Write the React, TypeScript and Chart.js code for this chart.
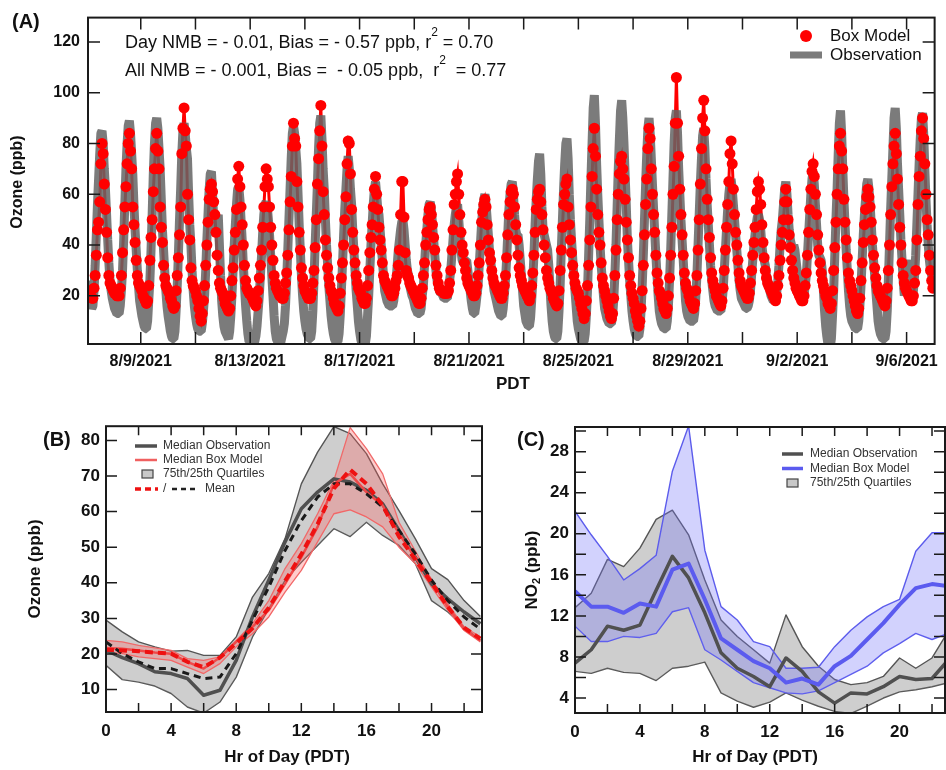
import React, { useEffect, useRef } from 'react';
import { Chart, registerables } from 'chart.js';

Chart.register(...registerables);

const FONT = "'Liberation Sans', Arial, Helvetica, sans-serif";
const INK = '#111111';

// ---------------- Panel A: hourly ozone, 8/7/2021 02:00 -> 9/6/2021 23:00 PDT ----------------
const firstHourA = 2; // hours after 8/7/2021 00:00 PDT
const boxModelOzone = [
  22, 21, 20, 19, 19, 23, 28, 36, 46, 49, 57, 72, 80, 76, 64, 54, 45, 35, 28, 25, 24, 23,
  22, 21, 21, 20, 20, 20, 23, 28, 37, 46, 55, 63, 72, 80, 84, 77, 70, 55, 48, 41, 34, 28, 25, 24,
  23, 22, 20, 19, 18, 17, 18, 24, 34, 43, 50, 61, 70, 78, 84, 77, 70, 55, 47, 41, 32, 27, 24, 23,
  22, 21, 19, 18, 16, 15, 16, 22, 28, 35, 44, 55, 76, 86, 94, 85, 79, 60, 50, 42, 31, 26, 24, 23,
  22, 20, 18, 15, 12, 10, 13, 18, 24, 32, 40, 49, 58, 62, 64, 61, 57, 52, 45, 36, 30, 25, 23, 22,
  21, 19, 17, 16, 15, 14, 15, 20, 26, 31, 38, 45, 54, 66, 71, 63, 55, 48, 40, 32, 26, 23, 22, 21,
  21, 20, 19, 18, 17, 16, 18, 22, 27, 32, 38, 47, 55, 63, 70, 66, 63, 55, 47, 40, 34, 28, 25, 23,
  22, 21, 20, 20, 19, 19, 21, 25, 29, 36, 46, 57, 67, 79, 88, 82, 79, 65, 55, 45, 38, 31, 27, 24,
  22, 21, 20, 19, 19, 19, 21, 25, 30, 39, 50, 64, 74, 85, 95, 79, 61, 52, 42, 36, 31, 27, 24, 22,
  21, 19, 17, 16, 15, 14, 16, 21, 27, 33, 40, 50, 59, 72, 81, 80, 68, 54, 45, 38, 33, 28, 25, 23,
  22, 21, 19, 18, 17, 17, 19, 24, 30, 37, 43, 48, 55, 62, 67, 60, 54, 47, 42, 38, 33, 28, 26, 25,
  24, 23, 22, 21, 20, 20, 21, 23, 26, 28, 32, 38, 52, 65, 65, 51, 37, 30, 28, 27, 25, 24, 23, 22,
  21, 20, 19, 18, 17, 17, 19, 23, 28, 33, 40, 45, 50, 54, 55, 52, 48, 43, 38, 32, 28, 25, 23, 22,
  22, 22, 21, 21, 21, 21, 22, 25, 30, 38, 46, 56, 60, 65, 68, 60, 52, 45, 40, 37, 33, 30, 27, 25,
  24, 23, 22, 21, 20, 20, 21, 24, 28, 33, 40, 49, 53, 56, 58, 55, 48, 42, 37, 34, 30, 27, 25, 24,
  23, 22, 21, 20, 19, 19, 21, 24, 28, 35, 44, 52, 57, 61, 62, 60, 55, 48, 42, 36, 31, 28, 26, 24,
  23, 22, 21, 20, 19, 18, 20, 24, 29, 36, 45, 54, 58, 61, 62, 57, 52, 46, 40, 35, 30, 27, 25, 23,
  22, 21, 19, 18, 17, 16, 17, 22, 30, 38, 47, 56, 60, 64, 66, 55, 48, 42, 37, 32, 28, 25, 23, 22,
  21, 19, 17, 15, 13, 11, 13, 18, 24, 32, 42, 55, 67, 78, 86, 75, 62, 52, 45, 40, 33, 27, 24, 22,
  20, 18, 16, 14, 12, 11, 13, 19, 28, 38, 50, 60, 68, 73, 75, 70, 66, 58, 49, 42, 35, 28, 24, 21,
  19, 17, 14, 12, 10, 8, 10, 15, 22, 32, 44, 56, 66, 78, 86, 82, 70, 60, 52, 45, 36, 29, 25, 22,
  21, 19, 17, 15, 14, 13, 15, 20, 27, 36, 47, 60, 71, 88, 106, 88, 75, 62, 52, 44, 36, 29, 25, 23,
  22, 20, 18, 17, 16, 15, 17, 22, 28, 38, 50, 64, 78, 90, 97, 85, 70, 58, 50, 43, 35, 29, 26, 24,
  22, 20, 19, 18, 17, 16, 18, 23, 30, 38, 47, 56, 65, 76, 81, 72, 62, 52, 45, 40, 34, 29, 26, 24,
  23, 22, 21, 20, 19, 19, 21, 25, 30, 36, 41, 47, 54, 61, 65, 62, 56, 48, 41, 35, 30, 27, 25, 24,
  23, 22, 21, 20, 19, 18, 20, 24, 28, 34, 40, 45, 50, 57, 62, 57, 50, 44, 39, 34, 30, 27, 25, 23,
  22, 21, 20, 19, 18, 18, 20, 24, 29, 36, 45, 54, 62, 69, 72, 67, 60, 52, 44, 38, 33, 29, 26, 24,
  22, 20, 19, 17, 16, 15, 17, 22, 30, 39, 49, 60, 70, 79, 84, 77, 70, 58, 49, 42, 35, 29, 26, 24,
  22, 20, 18, 16, 14, 13, 15, 19, 26, 33, 41, 48, 54, 59, 62, 59, 55, 49, 42, 36, 31, 27, 24, 22,
  21, 20, 19, 18, 17, 16, 18, 23, 30, 40, 52, 63, 72, 79, 84, 76, 66, 56, 47, 40, 33, 28, 25, 23,
  22, 21, 20, 19, 18, 18, 20, 25, 30, 42, 56, 67, 75, 85, 90, 82, 72, 60, 50, 44, 36, 30, 26, 23,
];
const observedOzone = [
  26, 22, 18, 15, 16, 22, 32, 44, 56, 66, 76, 84, 85, 80, 70, 62, 52, 42, 33, 26, 22, 19,
  17, 15, 14, 13, 13, 13, 16, 22, 30, 42, 56, 70, 80, 87, 89, 84, 76, 68, 56, 46, 38, 30, 24, 18,
  15, 12, 10, 8, 7, 7, 10, 18, 26, 38, 52, 68, 80, 88, 90, 86, 78, 70, 58, 46, 38, 30, 22, 16,
  12, 9, 6, 4, 3, 3, 6, 14, 24, 36, 50, 62, 76, 85, 88, 84, 78, 74, 60, 48, 40, 30, 22, 16,
  12, 9, 7, 6, 6, 6, 9, 14, 20, 30, 42, 52, 62, 68, 69, 60, 50, 46, 44, 48, 52, 40, 28, 18,
  12, 8, 6, 5, 4, 3, 6, 12, 20, 30, 40, 48, 56, 62, 63, 58, 50, 42, 32, 24, 16, 10, 5, 2,
  2, 0, -1, 0, 2, 4, 8, 14, 20, 28, 36, 45, 52, 56, 57, 55, 50, 44, 36, 28, 20, 12, 6, 3,
  2, 1, 0, 2, 4, 6, 9, 16, 26, 38, 50, 62, 74, 84, 87, 84, 78, 72, 60, 48, 38, 28, 20, 14,
  10, 7, 5, 4, 3, 3, 6, 14, 26, 40, 52, 64, 78, 88, 91, 82, 70, 62, 50, 40, 32, 24, 18, 12,
  8, 5, 3, 2, 2, 2, 5, 12, 22, 32, 44, 54, 62, 70, 75, 70, 62, 56, 46, 38, 30, 22, 16, 10,
  6, 3, 1, 0, 0, 1, 4, 12, 20, 30, 40, 48, 56, 62, 65, 60, 54, 52, 46, 40, 34, 28, 22, 20,
  18, 17, 16, 16, 16, 16, 18, 22, 26, 32, 38, 42, 46, 49, 50, 46, 40, 34, 30, 28, 24, 22, 20, 19,
  17, 15, 14, 13, 13, 13, 15, 20, 24, 32, 40, 46, 52, 56, 57, 54, 48, 42, 36, 30, 26, 24, 22, 21,
  21, 20, 19, 19, 19, 19, 22, 26, 30, 36, 42, 48, 52, 55, 56, 50, 44, 38, 34, 33, 33, 34, 34, 30,
  26, 22, 18, 15, 13, 13, 16, 20, 24, 32, 40, 48, 54, 58, 60, 56, 50, 44, 38, 34, 30, 26, 22, 20,
  18, 16, 14, 13, 12, 12, 15, 20, 26, 34, 44, 54, 60, 64, 65, 60, 52, 46, 44, 44, 40, 34, 28, 22,
  16, 13, 10, 9, 8, 8, 11, 18, 26, 36, 48, 58, 66, 73, 76, 68, 55, 46, 44, 42, 40, 38, 32, 24,
  16, 10, 6, 4, 3, 3, 6, 14, 24, 38, 50, 62, 72, 80, 82, 74, 60, 50, 42, 35, 28, 22, 16, 10,
  7, 5, 3, 2, 2, 2, 5, 12, 22, 36, 50, 66, 80, 94, 99, 88, 72, 60, 50, 40, 32, 26, 20, 15,
  13, 11, 10, 9, 9, 9, 12, 18, 28, 40, 55, 70, 82, 93, 97, 90, 80, 68, 56, 42, 34, 26, 20, 14,
  10, 7, 5, 4, 4, 4, 7, 14, 24, 36, 50, 64, 76, 86, 90, 84, 74, 64, 54, 45, 36, 28, 20, 14,
  11, 9, 8, 7, 7, 7, 10, 16, 26, 38, 52, 66, 80, 90, 93, 84, 70, 60, 50, 42, 34, 26, 18, 14,
  12, 11, 10, 10, 10, 10, 13, 19, 28, 40, 52, 64, 74, 83, 86, 78, 66, 56, 48, 40, 32, 26, 22, 18,
  16, 15, 14, 14, 14, 14, 17, 22, 30, 38, 46, 54, 60, 64, 66, 62, 56, 50, 44, 38, 32, 26, 22, 19,
  18, 17, 16, 15, 15, 16, 18, 22, 28, 34, 40, 44, 48, 51, 52, 50, 46, 40, 36, 34, 32, 28, 26, 24,
  22, 20, 19, 18, 18, 18, 21, 26, 32, 40, 46, 50, 56, 62, 65, 60, 52, 46, 42, 40, 38, 40, 38, 34,
  30, 26, 22, 19, 18, 18, 20, 24, 28, 36, 44, 52, 60, 66, 69, 64, 56, 48, 40, 36, 35, 34, 30, 22,
  14, 8, 4, 1, 0, 0, 3, 12, 22, 36, 50, 62, 76, 88, 93, 84, 70, 58, 48, 38, 30, 22, 16, 12,
  10, 9, 8, 7, 7, 7, 10, 16, 24, 34, 44, 52, 58, 64, 66, 62, 56, 48, 40, 34, 28, 22, 16, 10,
  7, 5, 4, 3, 3, 3, 6, 14, 26, 40, 54, 66, 78, 90, 94, 86, 72, 62, 52, 42, 34, 26, 20, 24,
  32, 34, 30, 26, 22, 20, 22, 28, 36, 48, 60, 72, 82, 90, 92, 84, 70, 58, 48, 40, 34, 30, 28, 27,
];
const twoDayTickHours = [48, 96, 144, 192, 240, 288, 336, 384, 432, 480, 528, 576, 624, 672, 720];
const dateTickHours = [48, 144, 240, 336, 432, 528, 624, 720];
const dateTickLabels = ['8/9/2021', '8/13/2021', '8/17/2021', '8/21/2021', '8/25/2021', '8/29/2021', '9/2/2021', '9/6/2021'];
const ozoneTicksA = [20, 40, 60, 80, 100, 120];

// ---------------- Panels B & C: diurnal profiles ----------------
const hoursOfDay = [0, 1, 2, 3, 4, 5, 6, 7, 8, 9, 10, 11, 12, 13, 14, 15, 16, 17, 18, 19, 20, 21, 22, 23];
const hourTicks = [0, 2, 4, 6, 8, 10, 12, 14, 16, 18, 20, 22];
const hourLabels = [0, 4, 8, 12, 16, 20];

// Panel B: ozone (ppb)
const obsQ75B = [29.5, 26.2, 23.4, 22, 20.8, 21, 19.6, 19.6, 24.8, 36, 42.6, 52.4, 67.8, 76.7, 83.9, 81.9, 76.3, 67.8, 60.3, 52.4, 44, 40.9, 35, 30.5];
const obsQ25B = [16.8, 12.8, 12.1, 11, 8.9, 5.1, 3.4, 6.5, 13.5, 24.8, 32.7, 40.7, 45.8, 50.5, 55.2, 53, 57, 53.3, 50.5, 45.4, 35, 31.8, 27.6, 23.8];
const obsMedianB = [21, 19, 17.3, 15, 14.5, 13.1, 8.4, 9.8, 18.2, 30.4, 40.7, 51.5, 60.8, 65.5, 69.2, 68.3, 66, 62.2, 54.7, 47.2, 39.7, 35.5, 31.8, 28.5];
const obsMeanB = [23.4, 20.1, 17.8, 15.9, 15.9, 14.5, 13.1, 13.5, 20.1, 29.5, 38.8, 49.1, 57.5, 64.1, 67.8, 67.8, 65, 61.3, 54.7, 48.2, 40.7, 35, 30.4, 27];
const modQ75B = [23.8, 23.4, 22.4, 21.7, 21, 18.7, 18.2, 19.2, 23.8, 28.5, 35, 44, 51, 59.4, 68.8, 83.6, 77.7, 70.6, 57, 49, 40.7, 34.1, 27.6, 24.8];
const modQ25B = [20.6, 20.1, 19.2, 18.7, 18.2, 16.3, 14.5, 17.3, 22, 25.7, 30.4, 37.4, 43.5, 51.5, 59.4, 60.5, 58.5, 55.7, 50, 45.4, 38.8, 32.3, 26.6, 23.4];
const modMedianB = [21.7, 21.5, 21, 20.4, 20.1, 17.8, 15.9, 19, 23.4, 27.6, 32.3, 39.7, 47.2, 55.7, 67.8, 70.6, 65.5, 61.7, 53.8, 47.2, 40.7, 33.2, 27.1, 23.8];
const modMeanB = [21.2, 21, 20.8, 20.4, 20.1, 17.8, 16.3, 19, 23, 27.2, 33, 40.5, 48, 56.5, 66.5, 71.8, 67.8, 61.7, 53, 46.5, 40, 33.2, 27.4, 24.3];
const ozoneTicksB = [10, 20, 30, 40, 50, 60, 70, 80];

// Panel C: NO2 (ppb)
const obsQ75C = [12.8, 14.2, 17.5, 16.8, 18.6, 21.4, 22.3, 19.9, 15.5, 11.6, 10, 8.7, 7.4, 12.1, 9, 7.1, 5.8, 5.3, 5.5, 6.1, 7.9, 6.9, 7.9, 10.5];
const obsQ25C = [6.6, 6.4, 6.9, 6.5, 6.4, 5.7, 6.9, 7.1, 7.5, 4.5, 3.7, 3.1, 3.6, 4.5, 3.8, 3.2, 2.7, 2.5, 3.2, 4.0, 4.6, 4.8, 5.1, 5.5];
const obsMedianC = [7.4, 8.7, 11, 10.6, 11.1, 14.5, 17.8, 15.7, 12.3, 8.4, 6.9, 6.1, 5.1, 7.9, 6.6, 4.6, 3.5, 4.5, 4.4, 5.1, 6.1, 5.8, 5.9, 7.7];
const modQ75C = [22.2, 19.9, 17.8, 15.5, 16.6, 17.9, 26.1, 30.5, 18.4, 12.9, 11.6, 9.5, 9, 6.9, 6.9, 7, 9, 10.6, 11.9, 12.9, 13.6, 18.3, 20.1, 20.1];
const modQ25C = [11, 9.5, 9.5, 10, 9.9, 10.3, 12.4, 12.8, 8.7, 7.7, 6.6, 5.5, 5, 4.5, 4.4, 4.7, 5.5, 6.3, 7.1, 8.4, 9.3, 10.3, 9.7, 10.3];
const modMedianC = [14.4, 12.9, 12.9, 12.3, 13.2, 12.9, 16.5, 17.1, 13.6, 9.8, 8.7, 7.6, 6.9, 5.5, 5.9, 5.3, 7.1, 8.1, 9.7, 11.3, 13.1, 14.7, 15.1, 14.9];
const no2Ticks = [4, 6, 8, 10, 12, 14, 16, 18, 20, 22, 24, 26, 28, 30];
const no2Labels = [4, 8, 12, 16, 20, 24, 28];

// ---------------- helpers ----------------
type Part = { t: string; font: string; dy?: number };

function drawParts(ctx: CanvasRenderingContext2D, parts: Part[], x: number, y: number, center = false) {
  let total = 0;
  for (const p of parts) { ctx.font = p.font; total += ctx.measureText(p.t).width; }
  let cx = center ? x - total / 2 : x;
  ctx.textAlign = 'left';
  for (const p of parts) {
    ctx.font = p.font;
    ctx.fillText(p.t, cx, y + (p.dy || 0));
    cx += ctx.measureText(p.t).width;
  }
}

function rotatedText(ctx: CanvasRenderingContext2D, parts: Part[], x: number, y: number) {
  ctx.save();
  ctx.translate(x, y);
  ctx.rotate(-Math.PI / 2);
  drawParts(ctx, parts, 0, 0, true);
  ctx.restore();
}

function framePlugin(xTicks: number[], yTicks: number[], tickX: number, tickY: number,
  deco: (ctx: CanvasRenderingContext2D) => void) {
  return {
    id: 'frameAndTicks',
    afterDatasetsDraw(chart: any) {
      const { ctx, chartArea: a, scales } = chart;
      ctx.save();
      ctx.strokeStyle = '#1a1a1a';
      ctx.lineWidth = 1.5;
      ctx.beginPath();
      for (const v of xTicks) {
        const px = scales.x.getPixelForValue(v);
        ctx.moveTo(px, a.bottom); ctx.lineTo(px, a.bottom - tickX);
        ctx.moveTo(px, a.top); ctx.lineTo(px, a.top + tickX);
      }
      for (const v of yTicks) {
        const py = scales.y.getPixelForValue(v);
        ctx.moveTo(a.left, py); ctx.lineTo(a.left + tickY, py);
        ctx.moveTo(a.right, py); ctx.lineTo(a.right - tickY, py);
      }
      ctx.stroke();
      ctx.lineWidth = 2;
      ctx.strokeRect(a.left, a.top, a.right - a.left, a.bottom - a.top);
      ctx.fillStyle = INK;
      ctx.textBaseline = 'middle';
      deco(ctx);
      ctx.restore();
    },
  };
}

function axes(opts: {
  xMin: number; xMax: number; yMin: number; yMax: number;
  xTicks: number[]; yTicks: number[];
  xLabel: (v: number) => string; yLabel: (v: number) => string;
  size: number; xPad: number; yPad: number; yWidth: number; xHeight: number;
}) {
  const font = { family: FONT, size: opts.size, weight: 'bold' as const };
  const grid = { display: false, drawTicks: false, tickLength: 0 };
  return {
    x: {
      type: 'linear' as const, min: opts.xMin, max: opts.xMax, bounds: 'data' as const,
      grid, border: { display: false },
      ticks: { autoSkip: false, maxRotation: 0, minRotation: 0, padding: opts.xPad, font, color: INK,
        callback: (v: any) => opts.xLabel(Number(v)) },
      afterBuildTicks: (s: any) => { s.ticks = opts.xTicks.map((v) => ({ value: v })); },
      afterFit: (s: any) => { s.height = opts.xHeight; },
    },
    y: {
      type: 'linear' as const, min: opts.yMin, max: opts.yMax, bounds: 'data' as const,
      grid, border: { display: false },
      ticks: { autoSkip: false, padding: opts.yPad, font, color: INK,
        callback: (v: any) => opts.yLabel(Number(v)) },
      afterBuildTicks: (s: any) => { s.ticks = opts.yTicks.map((v) => ({ value: v })); },
      afterFit: (s: any) => { s.width = opts.yWidth; },
    },
  };
}

const common = {
  responsive: false,
  animation: false as const,
  devicePixelRatio: 1,
  events: [] as any[],
};

const pts = (xs: number[], ys: number[]) => ys.map((y, i) => ({ x: xs[i], y }));

function profileLine(values: number[], color: string, width: number, order: number, extra: any = {}) {
  return {
    data: pts(hoursOfDay, values), borderColor: color, borderWidth: width, pointRadius: 0,
    fill: false, tension: 0, order, borderJoinStyle: 'round', ...extra,
  };
}

function legendLine(ctx: CanvasRenderingContext2D, x1: number, x2: number, y: number, color: string, w: number, dash: number[] = []) {
  ctx.save();
  ctx.strokeStyle = color; ctx.lineWidth = w; ctx.setLineDash(dash);
  ctx.beginPath(); ctx.moveTo(x1, y); ctx.lineTo(x2, y); ctx.stroke();
  ctx.restore();
}

function legendBox(ctx: CanvasRenderingContext2D, x: number, y: number) {
  ctx.save();
  ctx.fillStyle = '#c8c8c8'; ctx.strokeStyle = '#444'; ctx.lineWidth = 1.2;
  ctx.fillRect(x, y - 4, 11, 8); ctx.strokeRect(x, y - 4, 11, 8);
  ctx.restore();
}

// ---------------- chart configs ----------------
function configA() {
  const xs = boxModelOzone.map((_, i) => firstHourA + i);
  const legendFont = `17px ${FONT}`;
  const deco = (ctx: CanvasRenderingContext2D) => {
    ctx.fillStyle = INK;
    ctx.textAlign = 'left';
    ctx.font = `bold 20px ${FONT}`;
    ctx.fillText('(A)', 12, 22);
    rotatedText(ctx, [{ t: 'Ozone (ppb)', font: `bold 16px ${FONT}` }], 18, 182);
    drawParts(ctx, [{ t: 'PDT', font: `bold 17px ${FONT}` }], 513, 384, true);
    const f = `18px ${FONT}`;
    const s = `12px ${FONT}`;
    drawParts(ctx, [
      { t: 'Day NMB = - 0.01, Bias = - 0.57 ppb, r', font: f },
      { t: '2', font: s, dy: -10 },
      { t: ' = 0.70', font: f },
    ], 125, 43);
    drawParts(ctx, [
      { t: 'All NMB = - 0.001, Bias =  - 0.05 ppb,  r', font: f },
      { t: '2', font: s, dy: -10 },
      { t: '  = 0.77', font: f },
    ], 125, 71);
    // legend
    ctx.fillStyle = '#ff0000';
    ctx.beginPath(); ctx.arc(806, 36, 6, 0, Math.PI * 2); ctx.fill();
    ctx.fillStyle = 'rgba(100,100,100,0.85)';
    ctx.fillRect(790, 51.5, 32, 7);
    ctx.fillStyle = INK;
    drawParts(ctx, [{ t: 'Box Model', font: legendFont }], 830, 36);
    drawParts(ctx, [{ t: 'Observation', font: legendFont }], 830, 55);
  };
  return {
    type: 'line' as const,
    data: {
      datasets: [
        { label: 'Box Model', data: pts(xs, boxModelOzone), showLine: false, pointRadius: 5.5,
          pointBackgroundColor: '#ff0000', pointBorderColor: '#ff0000', pointBorderWidth: 0, order: 0 },
        { label: 'Observation', data: pts(xs, observedOzone), borderColor: 'rgba(100,100,100,0.85)',
          borderWidth: 9, pointRadius: 0, tension: 0, borderJoinStyle: 'bevel', order: 1 },
        { label: 'Box Model line', data: pts(xs, boxModelOzone), borderColor: '#ff0000',
          borderWidth: 3, pointRadius: 0, tension: 0, order: 2 },
      ],
    },
    options: {
      ...common,
      layout: { padding: { left: 0, right: 8, top: 14, bottom: 0 } },
      plugins: { legend: { display: false }, tooltip: { enabled: false } },
      scales: axes({
        xMin: 1.7, xMax: 744.6, yMin: 1, yMax: 129.6,
        xTicks: twoDayTickHours, yTicks: ozoneTicksA,
        xLabel: (v) => { const i = dateTickHours.indexOf(v); return i >= 0 ? dateTickLabels[i] : ''; },
        yLabel: (v) => String(v),
        size: 16, xPad: 8, yPad: 8, yWidth: 88, xHeight: 56,
      }),
    },
    plugins: [framePlugin(twoDayTickHours, ozoneTicksA, 12, 12, deco)],
  };
}

function configB() {
  const lf = `12px ${FONT}`;
  const deco = (ctx: CanvasRenderingContext2D) => {
    ctx.fillStyle = INK;
    drawParts(ctx, [{ t: '(B)', font: `bold 20px ${FONT}` }], 43, 30);
    rotatedText(ctx, [{ t: 'Ozone (ppb)', font: `bold 17px ${FONT}` }], 35, 159);
    drawParts(ctx, [{ t: 'Hr of Day (PDT)', font: `bold 17px ${FONT}` }], 287, 347, true);
    legendLine(ctx, 135, 157, 36, '#505050', 3.5);
    legendLine(ctx, 135, 157, 50, '#f06060', 2.5);
    legendBox(ctx, 142, 64);
    legendLine(ctx, 135, 158, 79, '#ee1111', 3.5, [6, 4]);
    legendLine(ctx, 172, 195, 79, '#222222', 2.5, [5, 4]);
    ctx.fillStyle = '#333';
    drawParts(ctx, [{ t: 'Median Observation', font: lf }], 163, 36);
    drawParts(ctx, [{ t: 'Median Box Model', font: lf }], 163, 50);
    drawParts(ctx, [{ t: '75th/25th Quartiles', font: lf }], 163, 64);
    drawParts(ctx, [{ t: '/', font: lf }], 163, 79);
    drawParts(ctx, [{ t: 'Mean', font: lf }], 205, 79);
  };
  return {
    type: 'line' as const,
    data: {
      datasets: [
        profileLine(modMeanB, '#ee1111', 4, 0, { borderDash: [8, 5] }),
        profileLine(obsMeanB, '#1a1a1a', 3, 1, { borderDash: [7, 5] }),
        profileLine(modMedianB, '#ef4a4a', 2.5, 2),
        profileLine(obsMedianB, '#505050', 3.5, 3),
        profileLine(modQ75B, '#f06a6a', 1.3, 4, { fill: 5, backgroundColor: 'rgba(255,90,90,0.3)' }),
        profileLine(modQ25B, '#f06a6a', 1.3, 5),
        profileLine(obsQ75B, '#555555', 1.4, 6, { fill: 7, backgroundColor: 'rgba(125,125,125,0.38)' }),
        profileLine(obsQ25B, '#555555', 1.4, 7),
      ],
    },
    options: {
      ...common,
      layout: { padding: { left: 0, right: 8, top: 16, bottom: 0 } },
      plugins: { legend: { display: false }, tooltip: { enabled: false } },
      scales: axes({
        xMin: 0, xMax: 23.1, yMin: 3.7, yMax: 84,
        xTicks: hourTicks, yTicks: ozoneTicksB,
        xLabel: (v) => (hourLabels.includes(v) ? String(v) : ''),
        yLabel: (v) => String(v),
        size: 17, xPad: 9, yPad: 6, yWidth: 106, xHeight: 58,
      }),
    },
    plugins: [framePlugin(hourTicks, ozoneTicksB, 9, 11, deco)],
  };
}

function configC() {
  const lf = `12px ${FONT}`;
  const deco = (ctx: CanvasRenderingContext2D) => {
    ctx.fillStyle = INK;
    drawParts(ctx, [{ t: '(C)', font: `bold 20px ${FONT}` }], 27, 30);
    rotatedText(ctx, [
      { t: 'NO', font: `bold 17px ${FONT}` },
      { t: '2', font: `bold 11px ${FONT}`, dy: 5 },
      { t: ' (ppb)', font: `bold 17px ${FONT}` },
    ], 42, 160);
    drawParts(ctx, [{ t: 'Hr of Day (PDT)', font: `bold 17px ${FONT}` }], 265, 347, true);
    legendLine(ctx, 292, 313, 44, '#505050', 3.5);
    legendLine(ctx, 292, 313, 58.5, '#5b5bef', 3.5);
    legendBox(ctx, 297, 73);
    ctx.fillStyle = '#333';
    drawParts(ctx, [{ t: 'Median Observation', font: lf }], 320, 44);
    drawParts(ctx, [{ t: 'Median Box Model', font: lf }], 320, 58.5);
    drawParts(ctx, [{ t: '75th/25th Quartiles', font: lf }], 320, 73);
  };
  return {
    type: 'line' as const,
    data: {
      datasets: [
        profileLine(modMedianC, '#5b5bef', 4, 0),
        profileLine(obsMedianC, '#505050', 3.5, 1),
        profileLine(modQ75C, '#5c5cec', 1.4, 2, { fill: 3, backgroundColor: 'rgba(115,115,250,0.32)' }),
        profileLine(modQ25C, '#5c5cec', 1.4, 3),
        profileLine(obsQ75C, '#555555', 1.4, 4, { fill: 5, backgroundColor: 'rgba(125,125,125,0.38)' }),
        profileLine(obsQ25C, '#555555', 1.4, 5),
      ],
    },
    options: {
      ...common,
      layout: { padding: { left: 0, right: 1, top: 17, bottom: 0 } },
      plugins: { legend: { display: false }, tooltip: { enabled: false } },
      scales: axes({
        xMin: 0, xMax: 22.8, yMin: 2.54, yMax: 30.4,
        xTicks: hourTicks, yTicks: no2Ticks,
        xLabel: (v) => (hourLabels.includes(v) ? String(v) : ''),
        yLabel: (v) => (no2Labels.includes(v) ? String(v) : ''),
        size: 17, xPad: 9, yPad: 6, yWidth: 85, xHeight: 57,
      }),
    },
    plugins: [framePlugin(hourTicks, no2Ticks, 9, 11, deco)],
  };
}

export default function App() {
  const refA = useRef<HTMLCanvasElement>(null);
  const refB = useRef<HTMLCanvasElement>(null);
  const refC = useRef<HTMLCanvasElement>(null);

  useEffect(() => {
    const charts: Chart[] = [];
    if (refA.current) charts.push(new Chart(refA.current, configA() as any));
    if (refB.current) charts.push(new Chart(refB.current, configB() as any));
    if (refC.current) charts.push(new Chart(refC.current, configC() as any));
    return () => charts.forEach((c) => c.destroy());
  }, []);

  const abs = (left: number, top: number, w: number, h: number): React.CSSProperties => ({
    position: 'absolute', left, top, width: w, height: h, display: 'block',
  });

  return (
    <div style={{ position: 'fixed', left: 0, top: 0, width: 946, height: 770, background: '#ffffff', overflow: 'hidden' }}>
      <canvas ref={refA} width={946} height={400} style={abs(0, 0, 946, 400)} />
      <canvas ref={refB} width={490} height={360} style={abs(0, 410, 490, 360)} />
      <canvas ref={refC} width={456} height={360} style={abs(490, 410, 456, 360)} />
    </div>
  );
}
